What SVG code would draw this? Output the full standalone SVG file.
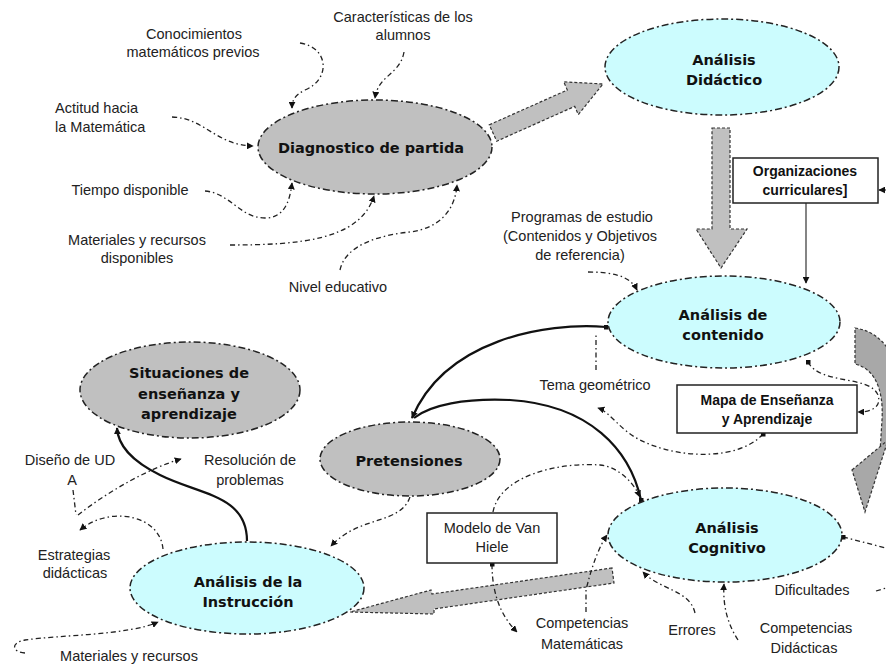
<svg xmlns="http://www.w3.org/2000/svg" width="886" height="666" viewBox="0 0 886 666">
<style>
.gray{fill:#c0c0c0;stroke:#222;stroke-width:1.5;stroke-dasharray:7 3 2 3}
.cyan{fill:#ccfcfe;stroke:#222;stroke-width:1.5;stroke-dasharray:7 3 2 3}
.blk{fill:#c0c0c0;stroke:#333;stroke-width:1.2;stroke-dasharray:3 2}
.blkd{fill:#a8a8a8;stroke:#333;stroke-width:1.2;stroke-dasharray:3 2}
.nt{font-family:"DejaVu Sans",Verdana,sans-serif;font-weight:bold;font-size:14.5px;fill:#111;text-anchor:middle}
.lb{font-family:"Liberation Sans",Arial,sans-serif;font-size:14.5px;fill:#222;text-anchor:middle}
.lbs{font-family:"Liberation Sans",Arial,sans-serif;font-size:14.5px;fill:#222;text-anchor:start}
.bt{font-family:"Liberation Sans",Arial,sans-serif;font-weight:bold;font-size:14px;fill:#111;text-anchor:middle}
.box{fill:#fff;stroke:#222;stroke-width:1.5}
.sol{fill:none;stroke:#111;stroke-width:2.2}
.dsh{fill:none;stroke:#222;stroke-width:1.3;stroke-dasharray:5 3 1.5 3}
.thin{fill:none;stroke:#333;stroke-width:1.2}
</style>
<defs>
<marker id="ar" viewBox="0 0 10 10" refX="9" refY="5" markerWidth="7" markerHeight="7" orient="auto-start-reverse" markerUnits="userSpaceOnUse">
<path d="M0,0 L10,5 L0,10 Z" fill="#111"/>
</marker>
<marker id="dot" viewBox="0 0 10 10" refX="5" refY="5" markerWidth="5" markerHeight="5" markerUnits="userSpaceOnUse">
<rect x="0" y="0" width="10" height="10" fill="#111"/>
</marker>
</defs>
<rect width="886" height="666" fill="#fff"/>

<g id="block-arrows">
<polygon class="blk" points="489.3,124.8 567.3,90 563.7,81.8 603,84 578.3,114.6 574.7,106.4 496.7,141.2"/>
<polygon class="blk" points="712,128 730,128 730,229 747,229 721,268 696,229 712,229"/>
<path class="blkd" d="M855,328 C890,333 905,370 900,420 L893,445 L880,452 L882,420 C884,385 872,368 855,364 Z"/>
<polygon class="blkd" points="852,470 888,440 865,512"/>
<polygon class="blk" points="612,568 432,594 431,590 350,612 434,614 434,609 614,583"/>
</g>

<g id="connectors">
<path class="sol" d="M606,327 C545,322 445,340 412,418" marker-end="url(#ar)" marker-start="url(#dot)"/>
<path class="sol" d="M641,500 C630,450 590,405 510,400 C465,398 430,405 414,418" marker-start="url(#dot)"/>
<path class="sol" d="M247,541 C247,495 200,495 160,475 C130,460 118,445 117,428" marker-end="url(#ar)"/>
<path class="dsh" d="M300,43 C330,48 330,80 305,90 C295,95 292,100 292,108" marker-end="url(#ar)"/>
<path class="dsh" d="M404,52 C400,75 378,75 375,98" marker-end="url(#ar)"/>
<path class="dsh" d="M172,117 C205,118 215,145 253,146" marker-end="url(#ar)"/>
<path class="dsh" d="M205,191 C230,193 240,218 265,218 C285,218 290,200 292,183" marker-end="url(#ar)"/>
<path class="dsh" d="M230,245 C300,245 360,240 374,196" marker-end="url(#ar)"/>
<path class="dsh" d="M340,270 C345,245 380,235 410,232 C440,228 455,210 457,185" marker-end="url(#ar)"/>
<path class="dsh" d="M588,272 C610,272 630,275 637,290" marker-end="url(#ar)"/>
<path class="dsh" d="M596,370 L596,333"/>
<path class="dsh" d="M763,434 C740,460 680,460 640,440 C620,430 610,412 598,408" marker-end="url(#ar)" marker-start="url(#dot)"/>
<path class="dsh" d="M808,362 C820,385 870,375 878,395 C882,408 870,412 858,412" marker-end="url(#ar)" marker-start="url(#dot)"/>
<path class="dsh" d="M493,512 C500,475 560,462 600,465 C620,467 635,485 640,497" marker-end="url(#ar)"/>
<path class="dsh" d="M492,564 C492,600 505,620 517,632" marker-end="url(#ar)" marker-start="url(#dot)"/>
<path class="dsh" d="M586,612 L586,590 C592,565 600,545 607,535" marker-end="url(#ar)"/>
<path class="dsh" d="M695,613 C690,590 660,590 643,572" marker-end="url(#ar)"/>
<path class="dsh" d="M738,640 C725,620 723,600 724,584" marker-end="url(#ar)"/>
<path class="dsh" d="M843,537 L886,548" marker-start="url(#dot)"/>
<path class="dsh" d="M876,591 L886,588"/>
<path class="dsh" d="M410,497 C400,525 360,515 331,546" marker-end="url(#ar)"/>
<path class="dsh" d="M163,549 C160,515 110,505 80,530" marker-end="url(#ar)"/>
<path class="dsh" d="M73,490 L76,515"/>
<path class="dsh" d="M78,515 C110,490 150,468 181,459" marker-end="url(#ar)"/>
<path class="dsh" d="M25,653 C12,652 10,643 25,640 C60,635 130,635 158,622" marker-end="url(#ar)"/>
<path class="thin" d="M806,203 L806,283" marker-end="url(#ar)"/>
<path class="thin" d="M886,190 L879,190" marker-end="url(#ar)"/>
</g>

<g id="diagnostico">
<ellipse class="gray" cx="375" cy="147" rx="117" ry="47"/>
<text class="nt" x="371" y="153">Diagnostico de partida</text>
</g>
<g id="didactico">
<ellipse class="cyan" cx="722" cy="67" rx="117" ry="48"/>
<text class="nt" x="724" y="65">Análisis</text>
<text class="nt" x="724" y="85">Didáctico</text>
</g>
<g id="contenido">
<ellipse class="cyan" cx="724" cy="322" rx="116" ry="46"/>
<text class="nt" x="723" y="320">Análisis de</text>
<text class="nt" x="723" y="340">contenido</text>
</g>
<g id="cognitivo">
<ellipse class="cyan" cx="725" cy="535" rx="117" ry="47"/>
<text class="nt" x="727" y="533">Análisis</text>
<text class="nt" x="727" y="553">Cognitivo</text>
</g>
<g id="instruccion">
<ellipse class="cyan" cx="247" cy="588" rx="117" ry="46"/>
<text class="nt" x="248" y="587">Análisis de la</text>
<text class="nt" x="248" y="607">Instrucción</text>
</g>
<g id="situaciones">
<ellipse class="gray" cx="190" cy="390" rx="110" ry="48"/>
<text class="nt" x="189" y="378">Situaciones de</text>
<text class="nt" x="189" y="399">enseñanza y</text>
<text class="nt" x="189" y="419">aprendizaje</text>
</g>
<g id="pretensiones">
<ellipse class="gray" cx="410" cy="459" rx="90" ry="37"/>
<text class="nt" x="409" y="466">Pretensiones</text>
</g>
<g id="organizaciones">
<rect class="box" x="733" y="158" width="145" height="45"/>
<text class="bt" x="805" y="176">Organizaciones</text>
<text class="bt" x="805" y="195">curriculares]</text>
</g>
<g id="mapa">
<rect class="box" x="677" y="385" width="180" height="48"/>
<text class="bt" x="767" y="405">Mapa de Enseñanza</text>
<text class="bt" x="767" y="424">y Aprendizaje</text>
</g>
<g id="vanhiele">
<rect class="box" x="427" y="513" width="130" height="50"/>
<text class="lb" x="492" y="533">Modelo de Van</text>
<text class="lb" x="492" y="552">Hiele</text>
</g>

<g id="labels">
<text class="lb" x="194" y="39">Conocimientos</text>
<text class="lb" x="193" y="57">matemáticos previos</text>
<text class="lb" x="403" y="22">Características de los</text>
<text class="lb" x="403" y="40">alumnos</text>
<text class="lbs" x="55" y="113">Actitud hacia</text>
<text class="lbs" x="55" y="132">la Matemática</text>
<text class="lb" x="130" y="195">Tiempo disponible</text>
<text class="lb" x="137" y="245">Materiales y recursos</text>
<text class="lb" x="137" y="263">disponibles</text>
<text class="lb" x="338" y="292">Nivel educativo</text>
<text class="lb" x="582" y="222">Programas de estudio</text>
<text class="lb" x="580" y="241">(Contenidos y Objetivos</text>
<text class="lb" x="580" y="260">de referencia)</text>
<text class="lb" x="595" y="390">Tema geométrico</text>
<text class="lb" x="70" y="465">Diseño de UD</text>
<text class="lb" x="72" y="485">A</text>
<text class="lb" x="250" y="465">Resolución de</text>
<text class="lb" x="250" y="485">problemas</text>
<text class="lb" x="74" y="560">Estrategias</text>
<text class="lb" x="75" y="578">didácticas</text>
<text class="lb" x="129" y="661">Materiales y recursos</text>
<text class="lb" x="582" y="628">Competencias</text>
<text class="lb" x="582" y="649">Matemáticas</text>
<text class="lb" x="692" y="635">Errores</text>
<text class="lb" x="806" y="633">Competencias</text>
<text class="lb" x="804" y="653">Didácticas</text>
<text class="lb" x="812" y="595">Dificultades</text>
</g>
</svg>
